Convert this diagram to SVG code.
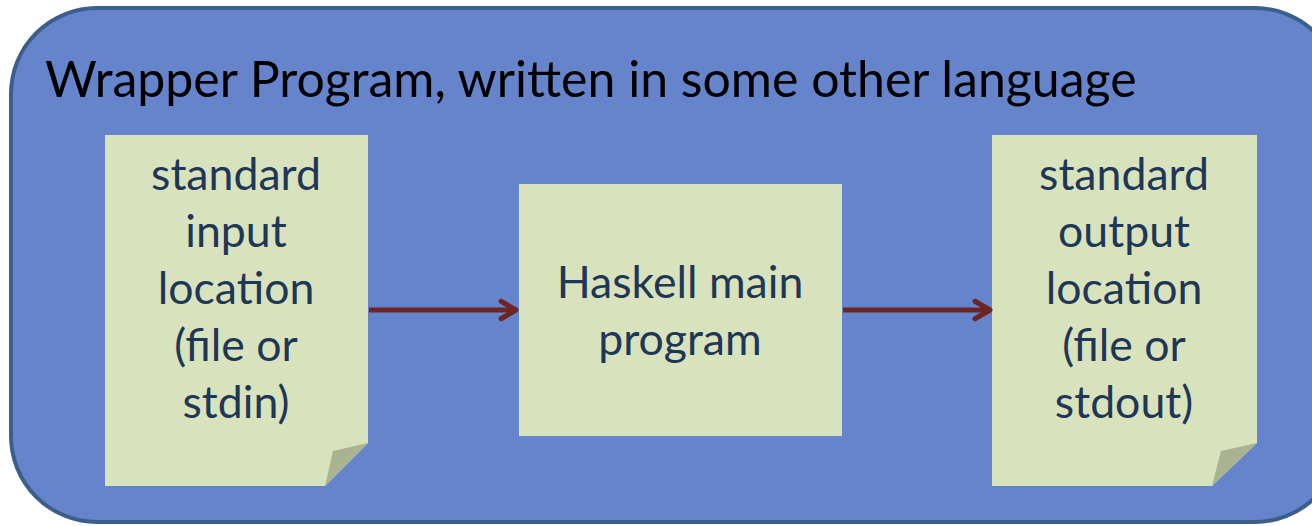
<svg xmlns="http://www.w3.org/2000/svg" width="1312" height="526" viewBox="0 0 1312 526">
<defs>
<style>
.t{font-family:Lato,"Open Sans",sans-serif;fill:#1f3756;font-size:44.6px;text-anchor:middle}
.box{fill:#d8e2bd}
.fold{fill:#a9b291}
.conn{stroke:#6e2423;stroke-width:5;fill:none}
</style>
<marker id="ah" viewBox="0 0 20 20" refX="17" refY="10" markerWidth="5" markerHeight="5" markerUnits="strokeWidth" orient="auto">
<path d="M5,3 L17,10 L5,17" fill="none" stroke="#6e2423" stroke-width="4" stroke-linecap="round" stroke-linejoin="round"/>
</marker>
</defs>
<g id="wrapper">
<rect x="11" y="8" width="1330" height="514" rx="86" ry="86" fill="#6584cc" stroke="#3b5e8c" stroke-width="4"/>
<text x="45" y="97" font-family="Lato,'Open Sans',sans-serif" font-size="50" fill="#000">Wrapper Program, written in some other language</text>
</g>
<g id="input">
<path class="box" d="M105,135 H368 V443 L325,486 H105 Z"/>
<path class="fold" d="M368,443 L333,451 L325,486 Z"/>
<text class="t" x="236" y="190">standard</text>
<text class="t" x="236" y="247">input</text>
<text class="t" x="236" y="304">location</text>
<text class="t" x="236" y="361">(file or</text>
<text class="t" x="236" y="418">stdin)</text>
</g>
<g id="haskell">
<rect class="box" x="519" y="184" width="323" height="252"/>
<text class="t" x="680" y="298">Haskell main</text>
<text class="t" x="680" y="355">program</text>
</g>
<g id="output">
<path class="box" d="M992,135 H1257 V443 L1212,486 H992 Z"/>
<path class="fold" d="M1257,443 L1221,451 L1212,486 Z"/>
<text class="t" x="1124" y="190">standard</text>
<text class="t" x="1124" y="247">output</text>
<text class="t" x="1124" y="304">location</text>
<text class="t" x="1124" y="361">(file or</text>
<text class="t" x="1124" y="418">stdout)</text>
</g>
<g id="connectors">
<line class="conn" x1="369" y1="310" x2="516" y2="310" marker-end="url(#ah)"/>
<line class="conn" x1="843" y1="310" x2="990" y2="310" marker-end="url(#ah)"/>
</g>
</svg>
